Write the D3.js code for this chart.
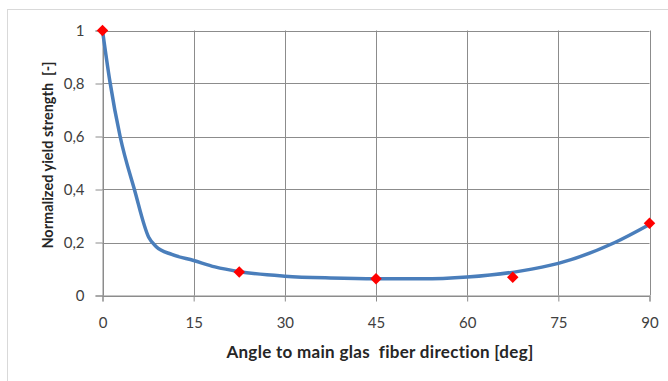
<!DOCTYPE html>
<html><head><meta charset="utf-8">
<script src="https://cdn.jsdelivr.net/npm/d3@7"></script>
<style>body{margin:0;background:#fff}svg{display:block}</style>
</head><body><svg id="c" width="668" height="381"></svg>
<script>
const xTicks = [0, 15, 30, 45, 60, 75, 90];
const yTicks = [0, 0.2, 0.4, 0.6, 0.8, 1];
const curveAngle = [0, 1.2, 2.9, 5.25, 7.6, 8.8, 11.4, 15, 18.5, 22.5, 30, 37.5, 45, 52.5, 60, 68.7, 75, 84.3, 90];
const curveValue = [1.0, 0.81, 0.6, 0.4, 0.22, 0.185, 0.155, 0.132, 0.108, 0.09, 0.073, 0.066, 0.063, 0.063, 0.07, 0.092, 0.121, 0.2, 0.268];
const markerAngle = [0, 22.5, 45, 67.5, 90];
const markerValue = [1.0, 0.089, 0.063, 0.069, 0.273];
const xTitle = "Angle to main glas  fiber direction [deg]";
const yTitle = "Normalized yield strength  [-]";

const svg = d3.select("#c");
const font = "Lato, 'Open Sans', sans-serif";
const L = 102.5, R = 649.5, T = 30.5, B = 295.5;
const x = d3.scaleLinear().domain([0, 90]).range([L, R]);
const y = d3.scaleLinear().domain([0, 1]).range([B, T]);

svg.append("rect").attr("x", 7.5).attr("y", 9.5).attr("width", 700).attr("height", 400)
  .attr("fill", "none").attr("stroke", "#d9d9d9");

const gridColor = "#8c8c8c";
svg.append("g").selectAll("line").data(yTicks).join("line")
  .attr("x1", L).attr("x2", R).attr("y1", d => Math.round(y(d)) + 0.5).attr("y2", d => Math.round(y(d)) + 0.5)
  .attr("stroke", gridColor);
svg.append("g").selectAll("line").data(xTicks).join("line")
  .attr("y1", T).attr("y2", B).attr("x1", d => Math.round(x(d)) + 0.5).attr("x2", d => Math.round(x(d)) + 0.5)
  .attr("stroke", gridColor);

const yAxis = d3.axisLeft(y).tickValues(yTicks).tickSize(7).tickPadding(11)
  .tickFormat(d => d3.format(".1~f")(d).replace(".", ","));
const gy = svg.append("g").attr("transform", `translate(${L},0)`).call(yAxis);
const xAxis = d3.axisBottom(x).tickValues(xTicks).tickSize(6).tickPadding(16);
const gx = svg.append("g").attr("transform", `translate(0,${B})`).call(xAxis);
[gx, gy].forEach(g => {
  g.select(".domain").attr("stroke", gridColor);
  g.selectAll(".tick line").attr("stroke", gridColor);
  g.selectAll("text").attr("font-family", font).attr("font-size", 15).attr("fill", "#404040");
});

const pts = curveAngle.map((a, i) => [a, curveValue[i]]);
svg.append("path").datum(pts)
  .attr("d", d3.line().x(d => x(d[0])).y(d => y(d[1])).curve(d3.curveMonotoneX))
  .attr("fill", "none").attr("stroke", "#4a7ebb").attr("stroke-width", 3.5).attr("stroke-linejoin", "round");

const mk = markerAngle.map((a, i) => [a, markerValue[i]]);
svg.append("g").selectAll("path").data(mk).join("path")
  .attr("d", d3.symbol().type(d3.symbolDiamond2).size(84))
  .attr("transform", d => `translate(${x(d[0])},${y(d[1])})`)
  .attr("fill", "#ff0000");

svg.append("text").attr("x", 380).attr("y", 358).attr("text-anchor", "middle")
  .style("white-space", "pre")
  .attr("font-family", font).attr("font-weight", "bold").attr("font-size", 17).attr("letter-spacing", 0.3)
  .attr("fill", "#262626").text(xTitle);
svg.append("text").attr("transform", "translate(53,155) rotate(-90)").attr("text-anchor", "middle")
  .style("white-space", "pre")
  .attr("font-family", font).attr("font-weight", "bold").attr("font-size", 14.5).attr("fill", "#262626").text(yTitle);
</script></body></html>
